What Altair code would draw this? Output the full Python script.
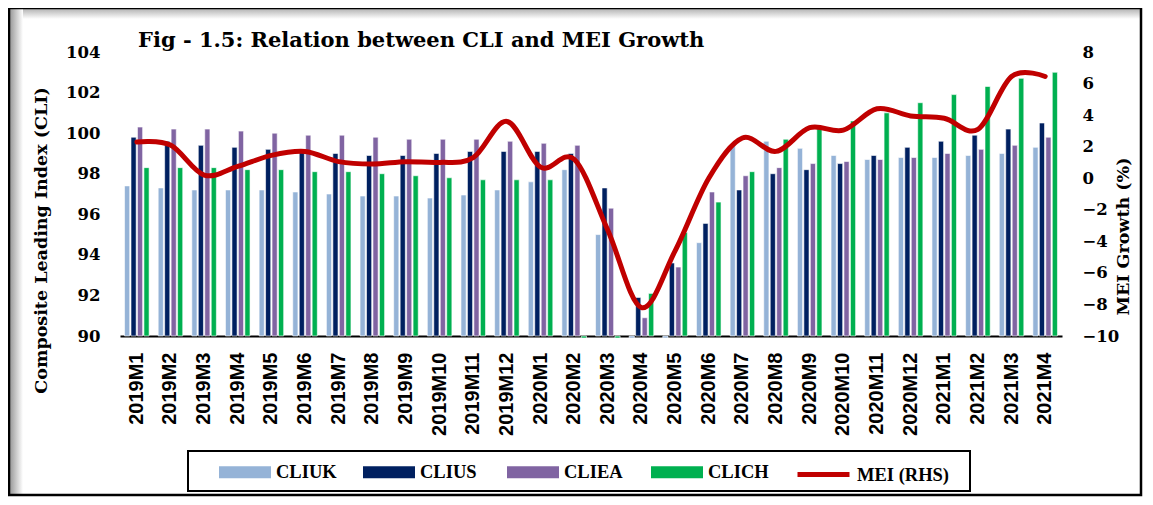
import altair as alt
import pandas as pd

months = ["2019M1", "2019M2", "2019M3", "2019M4", "2019M5", "2019M6", "2019M7",
          "2019M8", "2019M9", "2019M10", "2019M11", "2019M12", "2020M1", "2020M2",
          "2020M3", "2020M4", "2020M5", "2020M6", "2020M7", "2020M8", "2020M9",
          "2020M10", "2020M11", "2020M12", "2021M1", "2021M2", "2021M3", "2021M4"]

cliuk = [97.4, 97.3, 97.2, 97.2, 97.2, 97.1, 97.0, 96.9, 96.9, 96.8, 96.95, 97.2, 97.6, 98.2,
         95.0, 89.9, 89.9, 94.6, 99.4, 99.6, 99.25, 98.9, 98.7, 98.8, 98.8, 98.9, 99.0, 99.3]
clius = [99.8, 99.6, 99.4, 99.3, 99.2, 99.1, 99.0, 98.9, 98.9, 99.0, 99.1, 99.1, 99.1, 99.0,
         97.3, 91.9, 93.6, 95.55, 97.2, 98.0, 98.2, 98.5, 98.9, 99.3, 99.6, 99.9, 100.2, 100.5]
cliea = [100.3, 100.2, 100.2, 100.1, 100.0, 99.9, 99.9, 99.8, 99.7, 99.7, 99.7, 99.6, 99.5, 99.4,
         96.3, 90.9, 93.4, 97.1, 97.9, 98.3, 98.5, 98.6, 98.7, 98.8, 99.0, 99.2, 99.4, 99.8]
clich = [98.3, 98.3, 98.3, 98.2, 98.2, 98.1, 98.1, 98.0, 97.9, 97.8, 97.7, 97.7, 97.7, 89.9,
         89.9, 92.1, 95.1, 96.6, 98.1, 99.7, 100.3, 100.6, 101.0, 101.5, 101.9, 102.3, 102.7, 103.0]
mei = [2.3, 2.1, 0.2, 0.75, 1.45, 1.7, 1.05, 0.9, 1.05, 1.0, 1.3, 3.6, 0.7, 1.2,
       -3.3, -8.2, -4.6, 0.0, 2.55, 1.7, 3.2, 3.05, 4.4, 3.95, 3.8, 3.1, 6.45, 6.45]

series_names = ["CLIUK", "CLIUS", "CLIEA", "CLICH"]
bar_colors = ["#95B3D7", "#002060", "#8064A2", "#00B050"]
line_name = "MEI (RHS)"
line_color = "#C00000"
title_text = "Fig - 1.5: Relation between CLI and MEI Growth"
left_title = "Composite Leading Index (CLI)"
right_title = "MEI Growth (%)"
left_ticks = [90, 92, 94, 96, 98, 100, 102, 104]
right_ticks = [-10, -8, -6, -4, -2, 0, 2, 4, 6, 8]

rows = []
for name, vals in zip(series_names, [cliuk, clius, cliea, clich]):
    for m, v in zip(months, vals):
        rows.append({"month": m, "series": name, "value": v})
bars_df = pd.DataFrame(rows)
line_df = pd.DataFrame({"month": months, "mei": mei, "series": [line_name] * len(months)})
one = pd.DataFrame({"a": [0]})

SERIF = "Liberation Serif"
DSERIF = "DejaVu Serif"
SANS = "Liberation Sans"

xscale = alt.Scale(domain=months, paddingInner=0.27, paddingOuter=0.135)
xaxis = alt.Axis(title=None, labelAngle=270, labelFont=SANS, labelFontWeight="bold",
                 labelFontSize=20, labelColor="black", labelPadding=16, ticks=False,
                 domainColor="black", domainWidth=2, grid=False)

bars = alt.Chart(bars_df).mark_bar(stroke="white", strokeWidth=0.6).encode(
    x=alt.X("month:N", scale=xscale, axis=xaxis, sort=months),
    xOffset=alt.XOffset("series:N", scale=alt.Scale(domain=series_names, paddingInner=0.2),
                        sort=series_names),
    y=alt.Y("value:Q", scale=alt.Scale(domain=[90, 104], nice=False, zero=False),
            axis=alt.Axis(values=left_ticks, title=left_title, titleFont=DSERIF,
                          titleFontSize=17.5, titleFontWeight="bold", titleColor="black",
                          titlePadding=15, titleY=188, labelFont=DSERIF, labelFontSize=16.5,
                          labelFontWeight="bold", labelColor="black", labelPadding=20,
                          ticks=False, domain=False, grid=False)),
    y2=alt.datum(90),
    color=alt.Color("series:N", scale=alt.Scale(domain=series_names, range=bar_colors),
                    legend=alt.Legend(title=None, orient="none", legendX=99, legendY=394,
                                      direction="horizontal", columns=4,
                                      symbolType="M-1,-0.23H1V0.23H-1Z", symbolSize=2704,
                                      symbolStrokeWidth=0, labelFont=SERIF, labelFontSize=18.5,
                                      labelFontWeight="bold", labelColor="black",
                                      labelOffset=5, columnPadding=26, gridAlign="all",
                                      padding=0, symbolOpacity=1)),
)

line = alt.Chart(line_df).mark_line(interpolate="cardinal", strokeWidth=5, strokeCap="round").encode(
    x=alt.X("month:N", scale=xscale, axis=xaxis, sort=months),
    y=alt.Y("mei:Q", scale=alt.Scale(domain=[-10, 8], nice=False),
            axis=alt.Axis(orient="right", values=right_ticks, title=right_title,
                          titleAngle=270, titleFont=DSERIF, titleFontSize=17.5,
                          titleFontWeight="bold", titleColor="black", titlePadding=14,
                          titleY=184, labelFont=DSERIF, labelFontSize=16.5,
                          labelFontWeight="bold", labelColor="black", labelPadding=20,
                          ticks=False, domain=False, grid=False)),
    stroke=alt.Stroke("series:N", scale=alt.Scale(domain=[line_name], range=[line_color]),
                      legend=alt.Legend(title=None, orient="none", legendX=675, legendY=394,
                                        direction="horizontal", symbolType="stroke",
                                        symbolSize=2704, symbolStrokeWidth=5,
                                        labelFont=SERIF, labelFontSize=18.5,
                                        labelFontWeight="bold", labelColor="black",
                                        labelOffset=5, padding=0)),
)

frame = alt.Chart(one).mark_rect(fillOpacity=0, stroke="black", strokeWidth=2.5).encode(
    x=alt.value(-111), x2=alt.value(1021), y=alt.value(-44), y2=alt.value(443))

shade_left = alt.Chart(one).mark_rect(
    color=alt.Gradient(gradient="linear", x1=0, x2=1, y1=0, y2=0,
                       stops=[alt.GradientStop(offset=0, color="#9a9a9a"),
                              alt.GradientStop(offset=1, color="#ffffff")])).encode(
    x=alt.value(-110), x2=alt.value(-97), y=alt.value(-43), y2=alt.value(442))

shade_top = alt.Chart(one).mark_rect(
    color=alt.Gradient(gradient="linear", x1=0, x2=0, y1=0, y2=1,
                       stops=[alt.GradientStop(offset=0, color="#b5b5b5"),
                              alt.GradientStop(offset=1, color="#ffffff")])).encode(
    x=alt.value(-97), x2=alt.value(1020), y=alt.value(-43), y2=alt.value(-33))

legend_box = alt.Chart(one).mark_rect(fillOpacity=0, stroke="black", strokeWidth=2).encode(
    x=alt.value(68), x2=alt.value(850), y=alt.value(399), y2=alt.value(439))

title = alt.Chart(one).mark_text(text=title_text, align="left", baseline="alphabetic",
                                 font=DSERIF, fontSize=21, fontWeight="bold",
                                 color="black").encode(x=alt.value(18), y=alt.value(-5))

chart = alt.layer(shade_left, shade_top, frame, legend_box, bars, line, title).resolve_scale(
    y="independent"
).properties(
    width=942, height=284,
    autosize=alt.AutoSizeParams(type="none"),
    padding={"left": 112, "top": 44, "right": 83, "bottom": 161},
    background="white",
).configure_view(strokeWidth=0)

chart.save("out.html", embed_options={"renderer": "svg", "actions": False})
